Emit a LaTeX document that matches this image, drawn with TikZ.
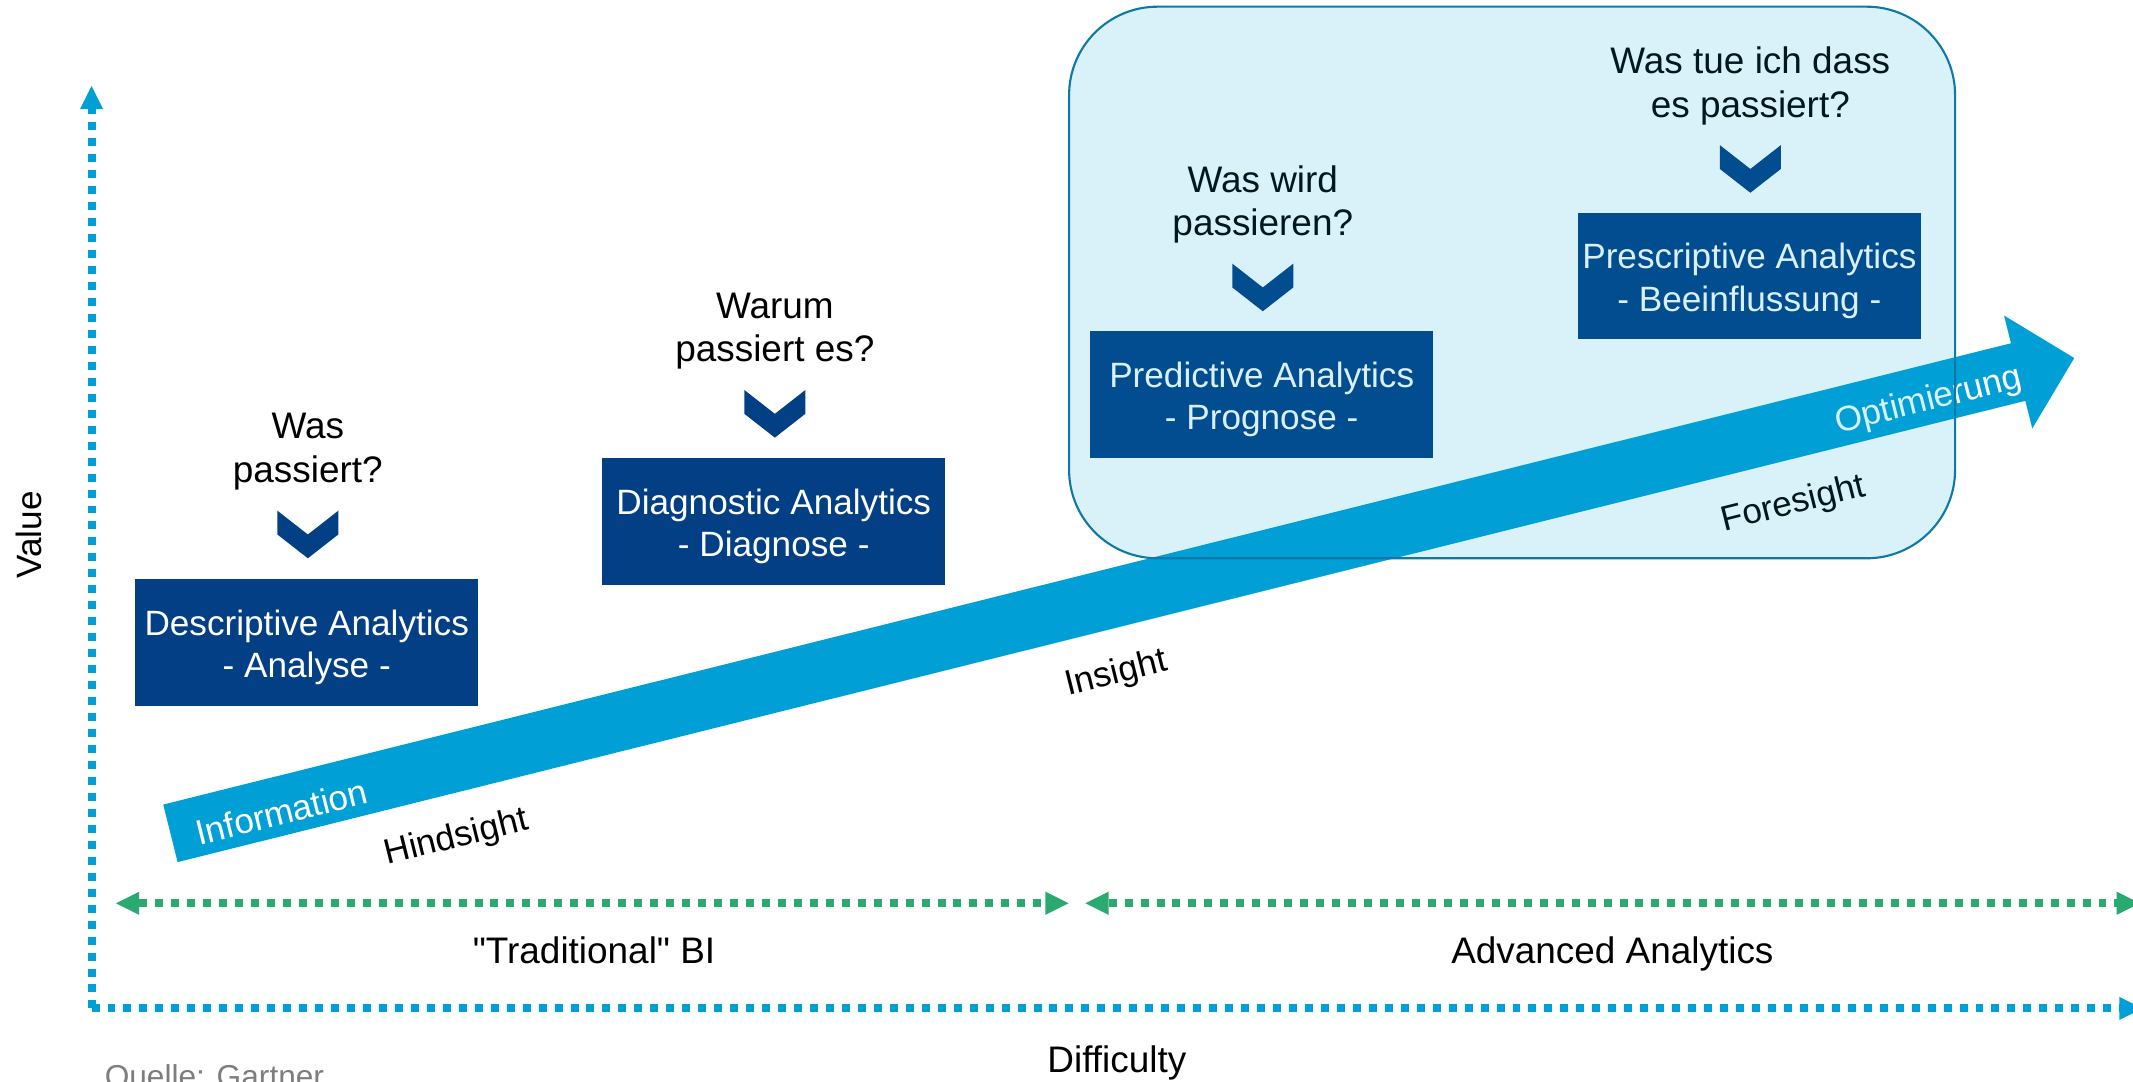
\documentclass[tikz,border=0pt]{standalone}
\usepackage{fontspec}
\setmainfont{Liberation Sans}
\font\lsplain="Liberation Sans" at 10.5pt
\usetikzlibrary{arrows.meta}
\definecolor{abl}{RGB}{0,160,214}
\definecolor{grn}{RGB}{42,170,110}
\definecolor{dbl}{RGB}{3,63,132}
\definecolor{bord}{RGB}{16,120,165}
\definecolor{srcgray}{RGB}{125,125,125}
\begin{document}
\begin{tikzpicture}[x=0.013603cm, y=-0.013603cm,
  dbox/.style={fill=dbl, text=white, inner sep=0pt, align=center,
    minimum width=3.428cm, minimum height=1.265cm,
    font=\fontsize{10}{12.1}\selectfont},
  question/.style={align=center, inner sep=0pt, font=\fontsize{10.5}{12.4}\selectfont},
  lbl/.style={inner sep=0pt, font=\fontsize{10.5}{12.6}\selectfont},
  atext/.style={inner sep=0pt, rotate=14.02, font=\fontsize{10}{12}\selectfont},
  dotline/.style={line width=2.27pt, dash pattern=on 2.27pt off 2.27pt},
  tipA/.style={-{Triangle[length=6.6pt,width=6.6pt,line width=0pt]}},
  tipB/.style={{Triangle[length=6.6pt,width=6.6pt,line width=0pt]}-{Triangle[length=6.6pt,width=6.6pt,line width=0pt]}},
  chev/.pic={\fill[dbl] (-22.4,0) -- (0,17.5) -- (22.4,0) -- (22.4,17.5) -- (0,35) -- (-22.4,17.5) -- cycle;}
]
\useasboundingbox (0,0) rectangle (1568,795);

% axes
\coordinate (origin) at (67.3,741.3);
\coordinate (ytip) at (67.3,63.2);
\coordinate (xtip) at (1575,741.3);
\draw[abl, dotline, tipA] (origin) -- (ytip);
\draw[abl, dotline, tipA] (origin) -- (xtip);

% green ranges
\coordinate (g1a) at (85.3,664);
\coordinate (g1b) at (785.6,664);
\coordinate (g2a) at (797.9,664);
\coordinate (g2b) at (1573,664);
\draw[grn, dotline, tipB] (g1a) -- (g1b);
\draw[grn, dotline, tipB] (g2a) -- (g2b);

% labels
\node[inner sep=0pt, anchor=base, font=\lsplain] (trad) at (436.7,708.2) {"Traditional" BI};
\node[lbl, anchor=base] (adv) at (1185.3,708.2) {Advanced Analytics};
\node[lbl, anchor=base] (diff) at (821,788.6) {Difficulty};
\node[inner sep=0pt, rotate=90, font=\fontsize{10}{12}\selectfont] (val) at (21.5,393.3) {Value};
\node[inner sep=0pt, anchor=base west, text=srcgray, font=\fontsize{9}{11}\selectfont] (src) at (76.5,799.6) {Quelle: Gartner};

% big arrow
\begin{scope}[shift={(125.3,612.6)}, rotate=14.02]
  \fill[abl] (0,-21.8) -- (1400,-21.8) -- (1400,-42.8) -- (1442.5,0) -- (1400,42.8) -- (1400,21.8) -- (0,21.8) -- cycle;
  \node[atext, text=white] (info) at (83,4.5) {Information};
  \node[atext] (hind) at (203,54.5) {Hindsight};
  \node[atext] (ins) at (703,55) {Insight};
  \node[atext] (fore) at (1216,54.5) {Foresight};
  \node[atext, text=white] (opt) at (1331,5) {Optimierung};
\end{scope}

% boxes
\node[dbox] (desc) at (225.5,472.2) {\rule{0pt}{10pt}Descriptive Analytics\\- Analyse -};
\node[dbox] (diag) at (568.8,383.3) {\rule{0pt}{10pt}Diagnostic Analytics\\- Diagnose -};
\node[dbox] (pred) at (927.5,290.2) {\rule{0pt}{10pt}Predictive Analytics\\- Prognose -};
\node[dbox] (presc) at (1286,202.9) {\rule{0pt}{10pt}Prescriptive Analytics\\- Beeinflussung -};

% chevrons
\pic at (226.3,375.4) {chev};
\pic at (569.6,286.7) {chev};
\pic at (928.3,193.8) {chev};
\pic at (1286.7,106.7) {chev};

% questions
\node[question] (q1) at (226.3,332.2) {Was\\passiert?};
\node[question] (q2) at (569.6,243.5) {Warum\\passiert es?};
\node[question] (q3) at (928.3,150.4) {Was wird\\passieren?};
\node[question] (q4) at (1286.7,63.2) {Was tue ich dass\\es passiert?};

% advanced analytics highlight box (on top, translucent)
\draw[bord, line width=0.6pt, fill=abl, fill opacity=0.15, rounded corners=0.884cm]
  (785.9,4.9) rectangle (1437.2,410.4);
\end{tikzpicture}
\end{document}
